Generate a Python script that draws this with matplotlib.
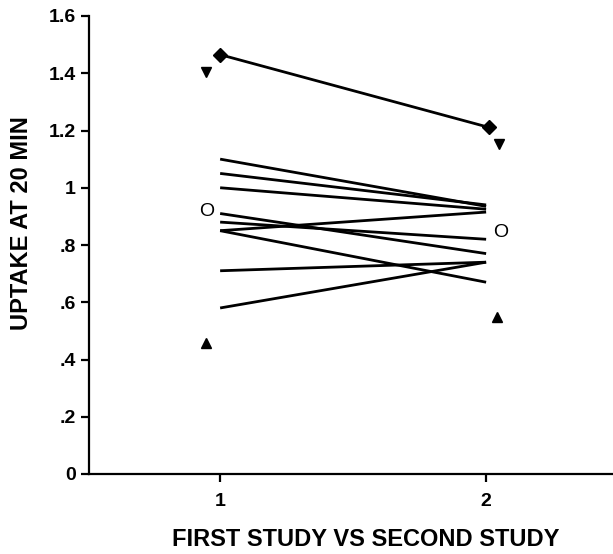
import matplotlib
matplotlib.use('Agg')
import matplotlib.pyplot as plt

plt.rcParams['font.family'] = ['Liberation Sans', 'DejaVu Sans']

# paired uptake values, first study -> second study
first_study = [1.10, 1.05, 1.00, 0.91, 0.88, 0.85, 0.85, 0.71, 0.58]
second_study = [0.935, 0.94, 0.925, 0.77, 0.82, 0.915, 0.67, 0.74, 0.74]

# patient drawn with diamonds
diamond_x = [1.0, 2.01]
diamond_y = [1.465, 1.211]

# unpaired symbols beside each study
tri_down_x = [0.945, 2.05]
tri_down_y = [1.404, 1.153]
tri_up_x = [0.947, 2.04]
tri_up_y = [0.458, 0.55]
o_x = [0.95, 2.053]
o_y = [0.917, 0.843]

y_ticks = [0, 0.2, 0.4, 0.6, 0.8, 1.0, 1.2, 1.4, 1.6]
y_tick_labels = ['0', '.2', '.4', '.6', '.8', '1', '1.2', '1.4', '1.6']
x_ticks = [1, 2]

fig = plt.figure(figsize=(6.13, 5.54), dpi=100)
ax = fig.add_axes([89 / 613, 1 - 474 / 554, 1 - 89 / 613, (474 - 16) / 554])

for a, b in zip(first_study, second_study):
    ax.plot([1, 2], [a, b], color='black', lw=2.0, solid_capstyle='butt')

ax.plot(diamond_x, diamond_y, color='black', lw=2.0, marker='D', markersize=7)
ax.plot(tri_down_x, tri_down_y, 'kv', markersize=7, linestyle='none')
ax.plot(tri_up_x, tri_up_y, 'k^', markersize=7, linestyle='none')
for x, y in zip(o_x, o_y):
    ax.text(x, y, 'O', ha='center', va='center', fontsize=14)

ax.set_xlim(0.507, 2.477)
ax.set_ylim(0, 1.6)
ax.set_yticks(y_ticks)
ax.set_yticklabels(y_tick_labels)
ax.set_xticks(x_ticks)
for lbl in ax.get_xticklabels() + ax.get_yticklabels():
    lbl.set_fontweight('bold')

for side in ['top', 'right']:
    ax.spines[side].set_visible(False)
for side in ['left', 'bottom']:
    ax.spines[side].set_linewidth(1.6)
ax.spines['left'].set_bounds(0, 1.6)

ax.tick_params(axis='both', direction='out', length=6, width=1.6, labelsize=14)
ax.tick_params(axis='x', pad=8)

fig.text(366 / 613, 1 - 540 / 554, 'FIRST STUDY VS SECOND STUDY',
         fontsize=17, fontweight='bold', ha='center', va='center')
fig.text(22 / 613, 1 - 223 / 554, 'UPTAKE AT 20 MIN', rotation=90,
         fontsize=17, fontweight='bold', ha='center', va='center')

plt.savefig('out.png', dpi=100)
plt.close()
